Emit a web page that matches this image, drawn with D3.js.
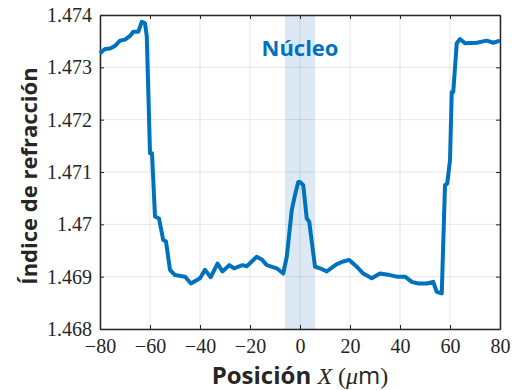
<!DOCTYPE html>
<html>
<head>
<meta charset="utf-8">
<script src="https://cdn.jsdelivr.net/npm/d3@7"></script>
<style>
  body { margin: 0; background: #fff; }
  svg { display: block; }
</style>
</head>
<body>
<svg id="chart"></svg>
<script>
var posX = [-80, -78, -76, -74, -72, -70, -68, -66.7, -64.7, -63.3, -62, -61.3, -60, -59.2,
  -58, -56.4, -54.7, -53.6, -52, -50, -46, -43.6, -40, -38, -35.7, -33, -31, -28.3, -26.4,
  -23, -21.3, -19.3, -17.3, -15.3, -13.3, -9.3, -6.7, -5.3, -3.3, -2, -0.7, 0, 1.3, 2.7, 3.7,
  6, 8, 10.7, 14.7, 17.3, 19.7, 22.7, 25.3, 28.7, 32, 36, 38.7, 42, 44.7, 47.3, 50.7, 53.3,
  54.7, 56.7, 58, 58.9, 60, 60.7, 61.3, 62.7, 64, 66, 70.7, 74.7, 77.3, 80];
var indice = [1.47327, 1.47335, 1.47336, 1.47341, 1.47351, 1.47353, 1.4736, 1.47368, 1.47368,
  1.47387, 1.47384, 1.4736, 1.47136, 1.47136,
  1.47015, 1.47011, 1.4697, 1.46967, 1.46913, 1.46903, 1.469, 1.46887, 1.46897, 1.46913,
  1.46899, 1.46925, 1.4691, 1.46922, 1.46916, 1.46922, 1.4692, 1.46929, 1.46938, 1.46933,
  1.46922, 1.46916, 1.46906, 1.46938, 1.47027, 1.47056, 1.47081, 1.47081, 1.47075, 1.47011,
  1.47005, 1.46919, 1.46916, 1.4691, 1.46924, 1.46929, 1.46932, 1.46919, 1.46906, 1.46897,
  1.46906, 1.46903, 1.469, 1.469, 1.4689, 1.46887, 1.46887, 1.4689, 1.46871, 1.46868,
  1.47075, 1.47078, 1.47123, 1.47253, 1.47253, 1.47346, 1.47354, 1.47346, 1.47347, 1.47351,
  1.47347, 1.47351];
var nucleo = [-6, 6];
var xTicks = [-80, -60, -40, -20, 0, 20, 40, 60, 80];
var yTicks = [1.468, 1.469, 1.47, 1.471, 1.472, 1.473, 1.474];
var yTickLabels = ['1.468', '1.469', '1.47', '1.471', '1.472', '1.473', '1.474'];

var width = 514, height = 390,
    mLeft = 100, mRight = 500, mTop = 15, mBottom = 329,
    azul = '#0072bd';

var svg = d3.select('#chart').attr('width', width).attr('height', height);

var x = d3.scaleLinear().domain([-80, 80]).range([mLeft, mRight]);
var y = d3.scaleLinear().domain([1.468, 1.474]).range([mBottom, mTop]);

// banda del nucleo
svg.append('rect')
  .attr('x', x(nucleo[0]))
  .attr('y', mTop)
  .attr('width', x(nucleo[1]) - x(nucleo[0]))
  .attr('height', mBottom - mTop)
  .attr('fill', '#dce9f5');

// rejilla
svg.append('g').selectAll('line').data(xTicks).enter().append('line')
  .attr('x1', function(d){ return x(d); }).attr('x2', function(d){ return x(d); })
  .attr('y1', mTop).attr('y2', mBottom)
  .attr('stroke', '#000').attr('stroke-opacity', 0.1).attr('stroke-width', 1);
svg.append('g').selectAll('line').data(yTicks).enter().append('line')
  .attr('y1', function(d){ return y(d); }).attr('y2', function(d){ return y(d); })
  .attr('x1', mLeft).attr('x2', mRight)
  .attr('stroke', '#000').attr('stroke-opacity', 0.1).attr('stroke-width', 1);

// ejes con marcas hacia dentro
function tickFmtX(d){ return d < 0 ? '\u2212' + Math.abs(d) : d; }
var serif = '"Liberation Serif", "DejaVu Serif", serif';

var gx = svg.append('g').attr('transform', 'translate(0,' + mBottom + ')')
  .call(d3.axisBottom(x).tickValues(xTicks).tickSizeInner(-4).tickSizeOuter(0).tickPadding(10).tickFormat(tickFmtX));
var gxTop = svg.append('g').attr('transform', 'translate(0,' + mTop + ')')
  .call(d3.axisTop(x).tickValues(xTicks).tickSizeInner(-4).tickSizeOuter(0).tickFormat(''));
var gy = svg.append('g').attr('transform', 'translate(' + mLeft + ',0)')
  .call(d3.axisLeft(y).tickValues(yTicks).tickSizeInner(-4).tickSizeOuter(0).tickPadding(8)
    .tickFormat(function(d, i){ return yTickLabels[i]; }));
var gyRight = svg.append('g').attr('transform', 'translate(' + mRight + ',0)')
  .call(d3.axisRight(y).tickValues(yTicks).tickSizeInner(-4).tickSizeOuter(0).tickFormat(''));

[gx, gy].forEach(function(g){
  g.selectAll('text').attr('font-family', serif).attr('font-size', 20).attr('fill', '#262626');
  g.select('.domain').attr('stroke', '#262626').attr('stroke-width', 1.5);
  g.selectAll('.tick line').attr('stroke', '#262626');
});
[gxTop, gyRight].forEach(function(g){
  g.select('.domain').attr('stroke', '#262626').attr('stroke-width', 1.5);
  g.selectAll('.tick line').attr('stroke', '#262626');
});

// curva
var linea = d3.line()
  .x(function(d){ return x(d[0]); })
  .y(function(d){ return y(d[1]); });

svg.append('path')
  .datum(posX.map(function(d, i){ return [d, indice[i]]; }))
  .attr('d', linea)
  .attr('fill', 'none')
  .attr('stroke', azul)
  .attr('stroke-width', 4)
  .attr('stroke-linejoin', 'round');

// textos
svg.append('text')
  .attr('x', x(0)).attr('y', 56)
  .attr('text-anchor', 'middle')
  .attr('font-family', '"Open Sans", sans-serif')
  .attr('font-weight', 700).attr('font-size', 22)
  .attr('fill', azul)
  .text('Núcleo');

svg.append('text')
  .attr('transform', 'translate(37,' + 176 + ') rotate(-90)')
  .attr('text-anchor', 'middle')
  .attr('font-family', '"Open Sans", sans-serif')
  .attr('font-weight', 700).attr('font-size', 22)
  .attr('fill', '#262626')
  .text('Índice de refracción');

var xl = svg.append('text')
  .attr('x', x(0)).attr('y', 384)
  .attr('text-anchor', 'middle')
  .attr('font-size', 24)
  .attr('fill', '#262626');
xl.append('tspan').attr('font-family', '"Open Sans", sans-serif').attr('font-weight', 700).text('Posición ');
xl.append('tspan').attr('font-family', serif).attr('font-style', 'italic').text('X');
xl.append('tspan').attr('font-family', serif).text(' (');
xl.append('tspan').attr('font-family', serif).attr('font-style', 'italic').text('μ');
xl.append('tspan').attr('font-family', '"Open Sans", sans-serif').text('m');
xl.append('tspan').attr('font-family', serif).text(')');
</script>
</body>
</html>
